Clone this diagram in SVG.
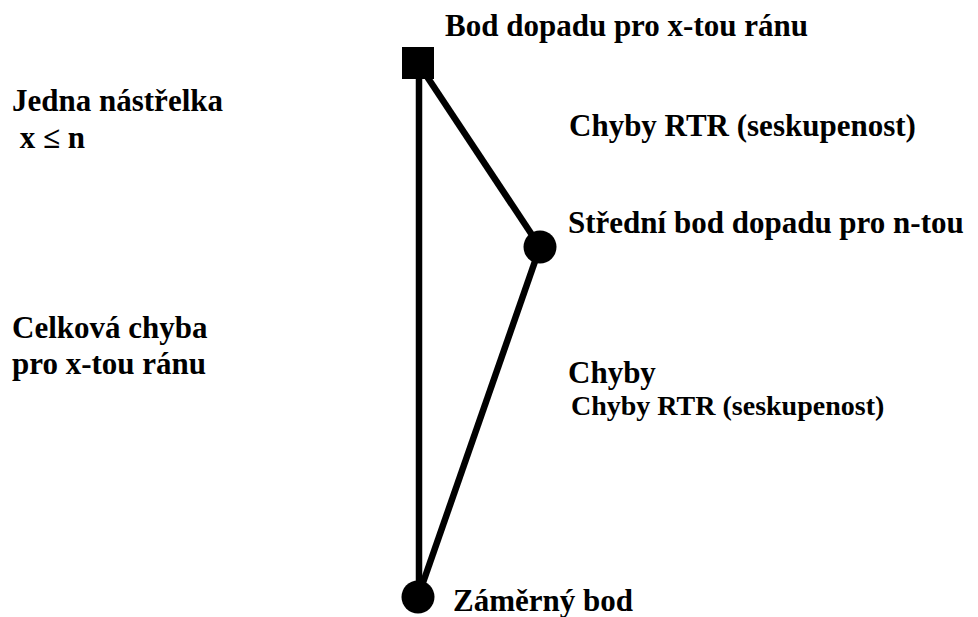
<svg xmlns="http://www.w3.org/2000/svg" width="978" height="617" viewBox="0 0 978 617" font-family="Liberation Serif, Times New Roman, Times, serif">
  <style>
    .lbl { font-weight: bold; font-size: 31px; fill: #000; }
    .sm { font-size: 28px; }
    .edge { stroke: #000; stroke-width: 6.5; fill: none; }
    .pt { fill: #000; }
  </style>
  <rect width="978" height="617" fill="#fff"/>

  <!-- connectors -->
  <g id="connectors">
    <line class="edge" x1="419" y1="63" x2="419" y2="597"/>
    <line class="edge" x1="418" y1="63" x2="540" y2="247"/>
    <line class="edge" x1="540" y1="247" x2="418" y2="597"/>
  </g>

  <!-- impact point of shot x -->
  <g id="impact-x">
    <rect class="pt" x="402" y="47" width="32" height="32"/>
    <text class="lbl" x="445" y="36">Bod dopadu pro x-tou ránu</text>
  </g>

  <!-- mean point of impact -->
  <g id="mean-point">
    <circle class="pt" cx="540" cy="247" r="16.5"/>
    <text class="lbl" x="568" y="233">Střední bod dopadu pro n-tou</text>
  </g>

  <!-- aiming point -->
  <g id="aim-point">
    <circle class="pt" cx="418" cy="597" r="16.5"/>
    <text class="lbl" x="453" y="611">Záměrný bod</text>
  </g>

  <!-- side labels -->
  <g id="label-single">
    <text class="lbl" x="12" y="111">Jedna nástřelka</text>
    <text class="lbl" x="12" y="148" xml:space="preserve"> x ≤ n</text>
  </g>
  <g id="label-total">
    <text class="lbl" x="12" y="338">Celková chyba</text>
    <text class="lbl" x="12" y="374">pro x-tou ránu</text>
  </g>
  <g id="label-rtr-upper">
    <text class="lbl" x="569" y="136">Chyby RTR (seskupenost)</text>
  </g>
  <g id="label-rtr-lower">
    <text class="lbl" x="568" y="383">Chyby</text>
    <text class="lbl sm" x="571" y="415">Chyby RTR (seskupenost)</text>
  </g>
</svg>
